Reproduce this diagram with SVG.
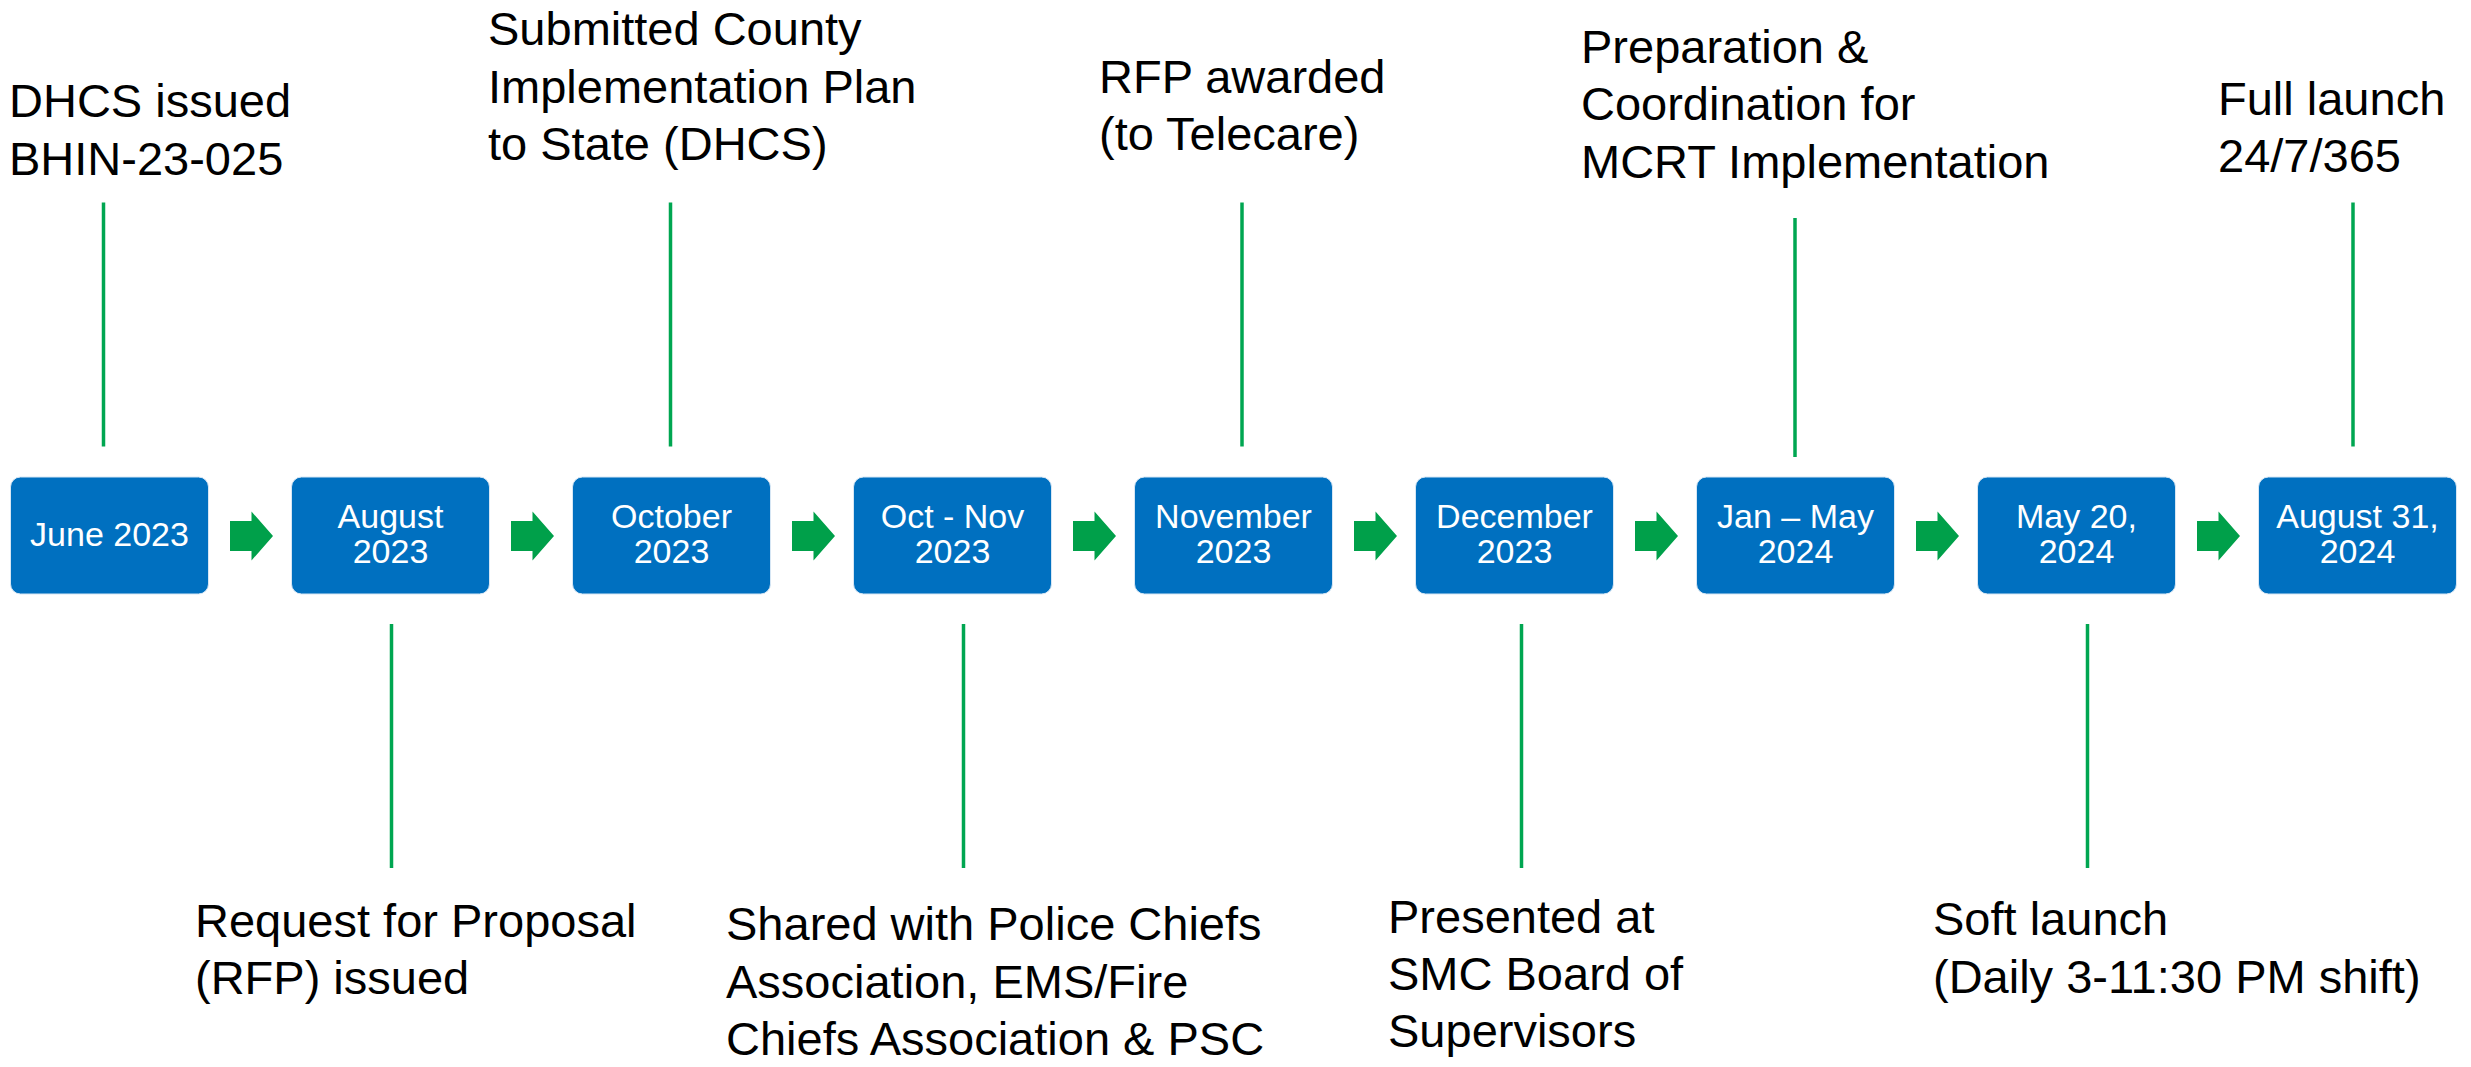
<svg xmlns="http://www.w3.org/2000/svg" width="2471" height="1067" viewBox="0 0 2471 1067">
  <style>
    .box { fill: #0070C0; stroke: #d6e6f4; stroke-width: 1; }
    .date { font-family: "Liberation Sans", Arial, sans-serif; font-size: 34px; fill: #ffffff; text-anchor: middle; }
    .label { font-family: "Liberation Sans", Arial, sans-serif; font-size: 47px; fill: #000000; }
    .tick { stroke: #00A651; stroke-width: 3.5; fill: none; }
    .step { fill: #00A04A; }
  </style>
  <defs>
    <path id="step-arrow" d="M0,-15 H21.5 V-24.5 L43,0 L21.5,24.5 V15 H0 Z"/>
  </defs>
  <rect width="2471" height="1067" fill="#ffffff"/>

  <!-- connectors: stalks from boxes to captions, and arrows between boxes -->
  <g id="connectors">
    <line class="tick" x1="103.5" y1="202.5" x2="103.5" y2="446.5"/>
    <line class="tick" x1="391.5" y1="624" x2="391.5" y2="868"/>
    <line class="tick" x1="670.5" y1="202.5" x2="670.5" y2="446.5"/>
    <line class="tick" x1="963.5" y1="624" x2="963.5" y2="868"/>
    <line class="tick" x1="1242" y1="202.5" x2="1242" y2="446.5"/>
    <line class="tick" x1="1521.5" y1="624" x2="1521.5" y2="868"/>
    <line class="tick" x1="1795" y1="218" x2="1795" y2="457"/>
    <line class="tick" x1="2087.5" y1="624" x2="2087.5" y2="868"/>
    <line class="tick" x1="2353" y1="202.5" x2="2353" y2="446.5"/>
    <use href="#step-arrow" class="step" x="230" y="536"/>
    <use href="#step-arrow" class="step" x="511" y="536"/>
    <use href="#step-arrow" class="step" x="792" y="536"/>
    <use href="#step-arrow" class="step" x="1073" y="536"/>
    <use href="#step-arrow" class="step" x="1354" y="536"/>
    <use href="#step-arrow" class="step" x="1635" y="536"/>
    <use href="#step-arrow" class="step" x="1916" y="536"/>
    <use href="#step-arrow" class="step" x="2197" y="536"/>
  </g>

  <!-- milestone boxes -->
  <g id="node-jun2023">
    <rect class="box" x="10.5" y="477" width="198" height="117" rx="10"/>
    <text class="date" x="109.5" y="546">June 2023</text>
  </g>
  <g id="node-aug2023">
    <rect class="box" x="291.5" y="477" width="198" height="117" rx="10"/>
    <text class="date" x="390.5" y="528">August</text>
    <text class="date" x="390.5" y="563">2023</text>
  </g>
  <g id="node-oct2023">
    <rect class="box" x="572.5" y="477" width="198" height="117" rx="10"/>
    <text class="date" x="671.5" y="528">October</text>
    <text class="date" x="671.5" y="563">2023</text>
  </g>
  <g id="node-octnov2023">
    <rect class="box" x="853.5" y="477" width="198" height="117" rx="10"/>
    <text class="date" x="952.5" y="528">Oct - Nov</text>
    <text class="date" x="952.5" y="563">2023</text>
  </g>
  <g id="node-nov2023">
    <rect class="box" x="1134.5" y="477" width="198" height="117" rx="10"/>
    <text class="date" x="1233.5" y="528">November</text>
    <text class="date" x="1233.5" y="563">2023</text>
  </g>
  <g id="node-dec2023">
    <rect class="box" x="1415.5" y="477" width="198" height="117" rx="10"/>
    <text class="date" x="1514.5" y="528">December</text>
    <text class="date" x="1514.5" y="563">2023</text>
  </g>
  <g id="node-janmay2024">
    <rect class="box" x="1696.5" y="477" width="198" height="117" rx="10"/>
    <text class="date" x="1795.5" y="528">Jan – May</text>
    <text class="date" x="1795.5" y="563">2024</text>
  </g>
  <g id="node-may2024">
    <rect class="box" x="1977.5" y="477" width="198" height="117" rx="10"/>
    <text class="date" x="2076.5" y="528">May 20,</text>
    <text class="date" x="2076.5" y="563">2024</text>
  </g>
  <g id="node-aug2024">
    <rect class="box" x="2258.5" y="477" width="198" height="117" rx="10"/>
    <text class="date" x="2357.5" y="528">August 31,</text>
    <text class="date" x="2357.5" y="563">2024</text>
  </g>

  <!-- captions above the timeline -->
  <g id="caption-bhin">
    <text class="label" x="9" y="117">DHCS issued</text>
    <text class="label" x="9" y="175">BHIN-23-025</text>
  </g>
  <g id="caption-plan">
    <text class="label" x="488" y="45">Submitted County</text>
    <text class="label" x="488" y="103">Implementation Plan</text>
    <text class="label" x="488" y="160">to State (DHCS)</text>
  </g>
  <g id="caption-award">
    <text class="label" x="1099" y="93">RFP awarded</text>
    <text class="label" x="1099" y="150">(to Telecare)</text>
  </g>
  <g id="caption-prep">
    <text class="label" x="1581" y="63">Preparation &amp;</text>
    <text class="label" x="1581" y="120">Coordination for</text>
    <text class="label" x="1581" y="178">MCRT Implementation</text>
  </g>
  <g id="caption-full">
    <text class="label" x="2218" y="115">Full launch</text>
    <text class="label" x="2218" y="172">24/7/365</text>
  </g>

  <!-- captions below the timeline -->
  <g id="caption-rfp">
    <text class="label" x="195" y="937">Request for Proposal</text>
    <text class="label" x="195" y="994">(RFP) issued</text>
  </g>
  <g id="caption-shared">
    <text class="label" x="726" y="940">Shared with Police Chiefs</text>
    <text class="label" x="726" y="998">Association, EMS/Fire</text>
    <text class="label" x="726" y="1055">Chiefs Association &amp; PSC</text>
  </g>
  <g id="caption-board">
    <text class="label" x="1388" y="933">Presented at</text>
    <text class="label" x="1388" y="990">SMC Board of</text>
    <text class="label" x="1388" y="1047">Supervisors</text>
  </g>
  <g id="caption-soft">
    <text class="label" x="1933" y="935">Soft launch</text>
    <text class="label" x="1933" y="993">(Daily 3-11:30 PM shift)</text>
  </g>
</svg>
